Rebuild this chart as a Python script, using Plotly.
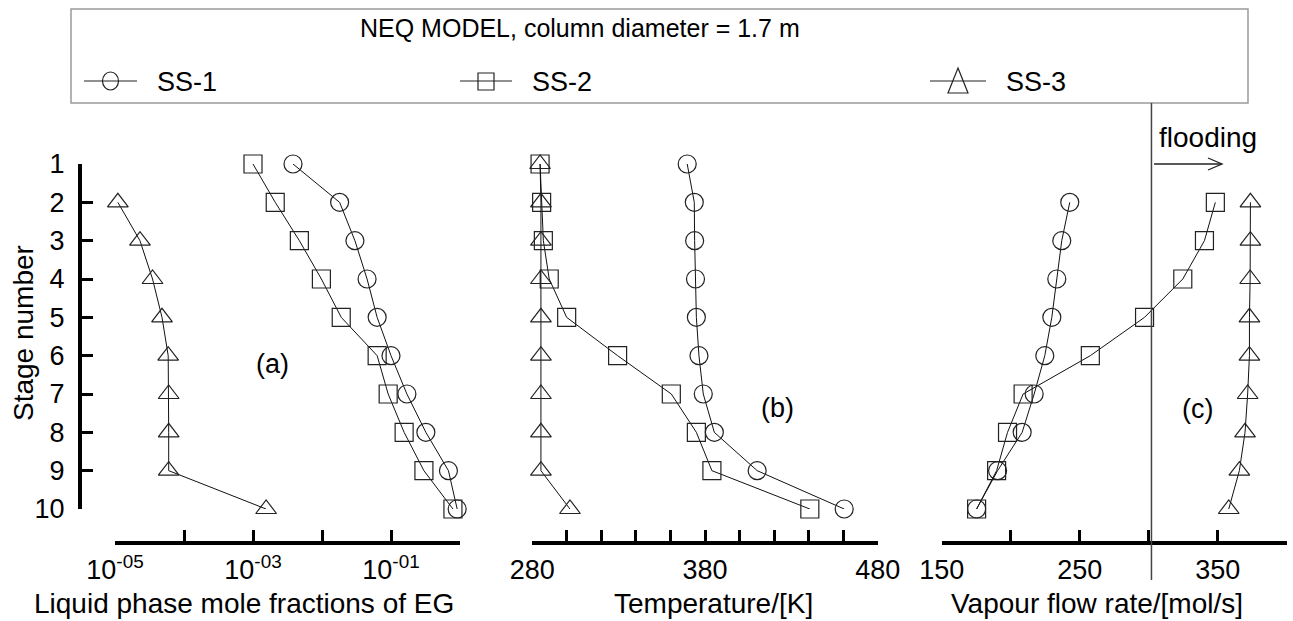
import plotly.graph_objects as go

W, H = 1293, 621

# ---------------- data ----------------
STAGES = list(range(1, 11))
STAGES_2_10 = list(range(2, 11))
SERIES = ["SS-1", "SS-2", "SS-3"]

# (a) liquid phase mole fractions of EG (log scale)
EG_SS1 = [0.0038, 0.018, 0.030, 0.045, 0.063, 0.10, 0.17, 0.32, 0.68, 0.91]
EG_SS2 = [0.0010, 0.0021, 0.0047, 0.0098, 0.019, 0.063, 0.091, 0.155, 0.30, 0.79]
EG_SS3 = [1.1e-5, 2.3e-5, 3.5e-5, 4.8e-5, 5.9e-5, 6.0e-5, 6.0e-5, 6.0e-5, 1.55e-3]  # stages 2-10

# (b) temperature [K]
T_SS1 = [369.7, 373.8, 374.0, 374.5, 375.0, 376.5, 379.0, 385.4, 410.2, 460.6]
T_SS2 = [284.5, 285.4, 286.4, 289.8, 299.9, 329.4, 360.5, 375.0, 384.0, 440.7]
T_SS3 = [284.5, 285.0, 285.0, 285.0, 285.0, 285.0, 285.0, 285.0, 285.0, 301.8]

# (c) vapour flow rate [mol/s], stages 2-10
V_SS1 = [242.8, 237.0, 233.4, 229.8, 224.7, 217.0, 208.3, 190.5, 175.3]
V_SS2 = [348.3, 340.4, 324.7, 297.0, 257.7, 209.0, 197.7, 189.8, 175.3]
V_SS3 = [373.7, 373.7, 373.5, 373.0, 373.0, 371.7, 369.8, 365.7, 358.0]
FLOODING_V = 302

# axis ticks (labelled major ticks + unlabelled minor ticks)
EG_TICKVALS = [1e-5, 1e-3, 1e-1]
EG_TICKTEXT = ["10<sup>-05</sup>", "10<sup>-03</sup>", "10<sup>-01</sup>"]
EG_MINOR = [1e-4, 1e-2, 1e0]
T_TICKVALS = [280, 380, 480]
T_TICKTEXT = ["280", "380", "480"]
T_MINOR = [300, 320, 340, 360, 400, 420, 440, 460]
V_TICKVALS = [150, 250, 350]
V_TICKTEXT = ["150", "250", "350"]
V_MINOR = [200, 300, 400]

TITLE = "NEQ MODEL, column diameter = 1.7 m"
XTITLES = ["Liquid phase mole fractions of EG", "Temperature/[K]", "Vapour flow rate/[mol/s]"]
YTITLE = "Stage number"
PANELS = ["(a)", "(b)", "(c)"]

# ---------------- helpers ----------------
FONT = "Liberation Sans, Arial, sans-serif"
def px(x):
    return x / W
def py(y):
    return 1 - y / H

SYMBOLS = ["circle-open", "square-open", "triangle-up-open"]
LINE_C = "#111111"
MK = dict(size=18, color="#222222", line=dict(width=1.2, color="#222222"))

fig = go.Figure()

def add(x, y, sym, xa):
    fig.add_trace(go.Scatter(
        x=x, y=y, xaxis=xa, yaxis="y", mode="lines+markers",
        line=dict(color=LINE_C, width=1),
        marker=dict(symbol=sym, **MK),
        cliponaxis=False, showlegend=False))

add(EG_SS1, STAGES, SYMBOLS[0], "x")
add(EG_SS2, STAGES, SYMBOLS[1], "x")
add(EG_SS3, STAGES_2_10, SYMBOLS[2], "x")
add(T_SS1, STAGES, SYMBOLS[0], "x2")
add(T_SS2, STAGES, SYMBOLS[1], "x2")
add(T_SS3, STAGES, SYMBOLS[2], "x2")
add(V_SS1, STAGES_2_10, SYMBOLS[0], "x3")
add(V_SS2, STAGES_2_10, SYMBOLS[1], "x3")
add(V_SS3, STAGES_2_10, SYMBOLS[2], "x3")

AX_Y = py(543)
common_x = dict(anchor="free", position=AX_Y, showgrid=False, zeroline=False,
                showline=True, linecolor="black", linewidth=4,
                ticks="inside", ticklen=11, tickwidth=2.5, tickcolor="black",
                tickfont=dict(family=FONT, size=27, color="black"),
                ticklabelstandoff=2)

def minor(vals):
    return dict(tickmode="array", tickvals=vals, ticks="inside", ticklen=11,
                tickwidth=2.5, tickcolor="black", showgrid=False)

fig.update_layout(
    width=W, height=H,
    margin=dict(l=0, r=0, t=0, b=0, autoexpand=False),
    paper_bgcolor="white", plot_bgcolor="rgba(0,0,0,0)",
    font=dict(family=FONT, size=27, color="black"),
    xaxis=dict(type="log", domain=[px(115), px(460)], range=[-5, 0],
               tickvals=EG_TICKVALS, ticktext=EG_TICKTEXT, minor=minor(EG_MINOR), **common_x),
    xaxis2=dict(domain=[px(532.3), px(877.7)], range=[280, 480],
                tickvals=T_TICKVALS, ticktext=T_TICKTEXT, minor=minor(T_MINOR), **common_x),
    xaxis3=dict(domain=[px(941.7), px(1286.7)], range=[150, 400],
                tickvals=V_TICKVALS, ticktext=V_TICKTEXT, minor=minor(V_MINOR), **common_x),
    yaxis=dict(domain=[py(509), py(164)], range=[10, 1], anchor="free",
               position=px(80), side="left", showgrid=False, zeroline=False,
               showline=True, linecolor="black", linewidth=4,
               ticks="inside", ticklen=11, tickwidth=2.5, tickcolor="black",
               tickvals=STAGES, tickfont=dict(family=FONT, size=27, color="black"),
               ticklabelstandoff=8),
)

shapes = []
# legend box
shapes.append(dict(type="rect", xref="paper", yref="paper",
                   x0=px(71), x1=px(1248), y0=py(103), y1=py(9),
                   line=dict(color="#9a9a9a", width=1.5), fillcolor="rgba(0,0,0,0)"))
# flooding line
shapes.append(dict(type="line", xref="x3", yref="paper",
                   x0=FLOODING_V, x1=FLOODING_V, y0=py(580), y1=py(103),
                   line=dict(color="#444444", width=1.5)))
# flooding arrow
ax0, ax1, ay = 1154, 1222, 164
shapes.append(dict(type="line", xref="paper", yref="paper",
                   x0=px(ax0), x1=px(ax1), y0=py(ay), y1=py(ay),
                   line=dict(color="#222222", width=1.3)))
shapes.append(dict(type="path", xref="paper", yref="paper",
                   path=f"M {px(1208)} {py(158)} L {px(ax1)} {py(ay)} L {px(1208)} {py(170)}",
                   line=dict(color="#222222", width=1.3)))

# legend symbols
LEG_Y = 81
leg_items = [(84, 137, SERIES[0], "circle"), (460, 512, SERIES[1], "square"), (930, 986, SERIES[2], "triangle")]
annotations = []
for x0, x1, name, kind in leg_items:
    shapes.append(dict(type="line", xref="paper", yref="paper",
                       x0=px(x0), x1=px(x1), y0=py(LEG_Y), y1=py(LEG_Y),
                       line=dict(color="#222222", width=1.2)))
    cx = (x0 + x1) / 2
    if kind == "circle":
        shapes.append(dict(type="circle", xref="paper", yref="paper",
                           x0=px(cx - 8), x1=px(cx + 8), y0=py(LEG_Y + 9), y1=py(LEG_Y - 9),
                           line=dict(color="#222222", width=1.2)))
    elif kind == "square":
        shapes.append(dict(type="rect", xref="paper", yref="paper",
                           x0=px(cx - 8), x1=px(cx + 8), y0=py(LEG_Y + 9), y1=py(LEG_Y - 8),
                           line=dict(color="#222222", width=1.2)))
    else:
        shapes.append(dict(type="path", xref="paper", yref="paper",
                           path=f"M {px(cx)} {py(LEG_Y - 13)} L {px(cx + 10)} {py(LEG_Y + 12)} L {px(cx - 10)} {py(LEG_Y + 12)} Z",
                           line=dict(color="#222222", width=1.2)))
    annotations.append(dict(xref="paper", yref="paper", x=px(x1 + 18), y=py(LEG_Y + 1),
                            xanchor="left", yanchor="middle", text=name, showarrow=False,
                            font=dict(family=FONT, size=27, color="black")))

annotations.append(dict(xref="paper", yref="paper", x=px(580), y=py(28), text=TITLE,
                        showarrow=False, xanchor="center", yanchor="middle",
                        font=dict(family=FONT, size=25, color="black")))
annotations.append(dict(xref="paper", yref="paper", x=px(1208), y=py(137), text="flooding",
                        showarrow=False, xanchor="center", yanchor="middle",
                        font=dict(family=FONT, size=28, color="black")))
for (x, y), t in zip([(272, 364), (777, 408), (1197, 409)], PANELS):
    annotations.append(dict(xref="paper", yref="paper", x=px(x), y=py(y), text=t,
                            showarrow=False, xanchor="center", yanchor="middle",
                            font=dict(family=FONT, size=27, color="black")))
for x, t in zip([244, 714, 1097], XTITLES):
    annotations.append(dict(xref="paper", yref="paper", x=px(x), y=py(603), text=t,
                            showarrow=False, xanchor="center", yanchor="middle",
                            font=dict(family=FONT, size=28, color="black")))
annotations.append(dict(xref="paper", yref="paper", x=px(23), y=py(333), text=YTITLE,
                        textangle=-90, showarrow=False, xanchor="center", yanchor="middle",
                        font=dict(family=FONT, size=28, color="black")))

fig.update_layout(shapes=shapes, annotations=annotations)
fig.write_html("out.html", config={"displayModeBar": False},
               post_script="document.body.style.margin='0';document.body.style.overflow='hidden';")
